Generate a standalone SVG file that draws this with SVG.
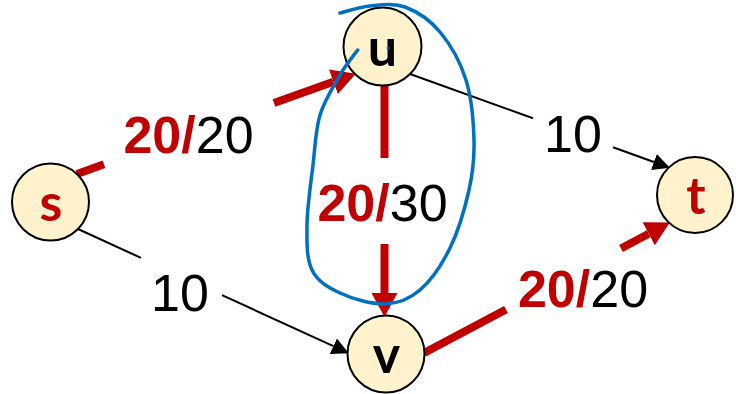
<svg xmlns="http://www.w3.org/2000/svg" width="736" height="394" viewBox="0 0 736 394">
<style>
.node{fill:#FFF2CC;stroke:#000;stroke-width:2}
.nl{font-family:Lato,"Open Sans",sans-serif;font-weight:700;font-size:52px;text-anchor:middle}
.red{fill:#C00000}
.blk{fill:#000}
.flow{fill:none;stroke:#C00000;stroke-width:8}
.cap{fill:none;stroke:#000;stroke-width:2}
.lbl{font-family:"Liberation Sans",Arial,sans-serif;font-size:52px;text-anchor:middle}
.b{font-weight:700;fill:#C00000}
.r{font-weight:400;fill:#000}
</style>
<defs>
<marker id="ar" markerUnits="userSpaceOnUse" markerWidth="26" markerHeight="26" refX="0" refY="12.5" orient="auto" viewBox="0 0 25 25">
<path d="M0,0 L23,12.5 L0,25 Z" fill="#C00000"/>
</marker>
<marker id="ab" markerUnits="userSpaceOnUse" markerWidth="17" markerHeight="17" refX="0" refY="7.5" orient="auto" viewBox="0 0 15 15">
<path d="M0,0 L15,7.5 L0,15 Z" fill="#000"/>
</marker>
</defs>
<g id="connectors">
<path id="e-s-u" class="flow" d="M77,174 L104,164.3 M274,103.1 L333.4,81.8" marker-end="url(#ar)"/>
<path id="e-u-v" class="flow" d="M384.5,86 L384.5,158 M384.5,244 L384.5,293" marker-end="url(#ar)"/>
<path id="e-v-t" class="flow" d="M424,353 L506,309.5 M621,248.5 L648.7,233.8" marker-end="url(#ar)"/>
<path id="e-u-t" class="cap" d="M410,74 L533,118.3 M613,147.2 L653.9,162" marker-end="url(#ab)"/>
<path id="e-s-v" class="cap" d="M78,229 L141,257.9 M222,295.1 L333.4,346.2" marker-end="url(#ab)"/>
<text class="lbl" x="188.5" y="153"><tspan class="b">20/</tspan><tspan class="r">20</tspan></text>
<text class="lbl" x="382.5" y="220.5"><tspan class="b">20/</tspan><tspan class="r">30</tspan></text>
<text class="lbl" x="583" y="307"><tspan class="b">20/</tspan><tspan class="r">20</tspan></text>
<text class="lbl r" x="573" y="152">10</text>
<text class="lbl r" x="180" y="311">10</text>
</g>
<g id="node-s"><circle class="node" cx="50.5" cy="202" r="38.5"/><text class="nl red" x="51" y="221">s</text></g>
<g id="node-u"><circle class="node" cx="382.5" cy="46.5" r="39"/><text class="nl blk" x="382.5" y="65.5">u</text></g>
<g id="node-t"><circle class="node" cx="695" cy="195" r="38"/><text class="nl red" x="696" y="213.5">t</text></g>
<g id="node-v"><circle class="node" cx="386" cy="354" r="38.5"/><text class="nl blk" x="386.5" y="373">v</text></g>
<g id="cut">
<path d="M357.7,50 C354.75,54.17 346.28,64.17 340,75 C333.72,85.83 324.5,100 320,115 C315.5,130 315.17,146.67 313,165 C310.83,183.33 307.17,207.5 307,225 C306.83,242.5 306.5,258.67 312,270 C317.5,281.33 327.83,287.33 340,293 C352.17,298.67 371.67,304.5 385,304 C398.33,303.5 409.17,299.33 420,290 C430.83,280.67 441.83,264.67 450,248 C458.17,231.33 465,208 469,190 C473,172 474.5,158.33 474,140 C473.5,121.67 471.67,98 466,80 C460.33,62 450.17,44.17 440,32 C429.83,19.83 416.67,11.33 405,7 C393.33,2.67 380.83,5 370,6 C359.17,7 345,11.83 340,13" fill="none" stroke="#0070C0" stroke-width="3.5" stroke-linecap="round"/>
<circle cx="388" cy="48" r="1.5" fill="#0070C0"/>
</g>
</svg>
